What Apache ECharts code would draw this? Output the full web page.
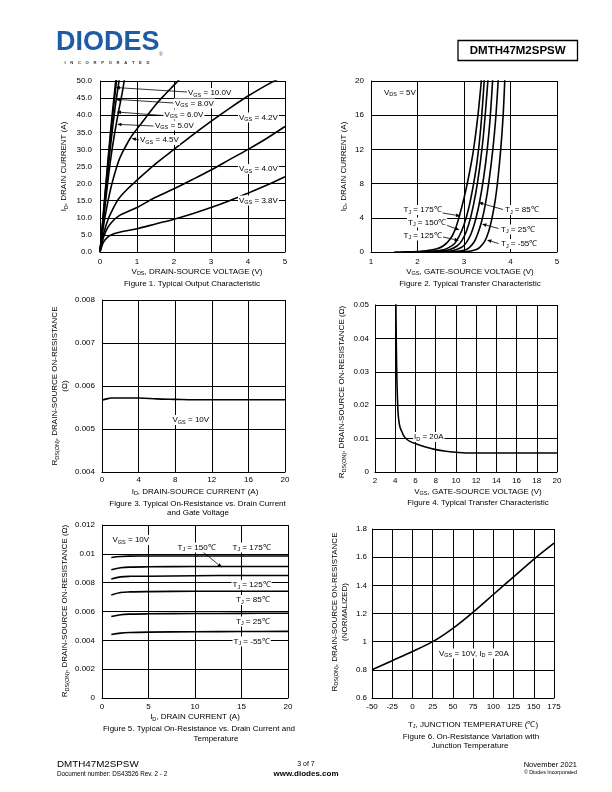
<!DOCTYPE html>
<html><head><meta charset="utf-8">
<script src="https://cdn.jsdelivr.net/npm/echarts@6/dist/echarts.min.js"></script>
<style>html,body{margin:0;padding:0;background:#fff}#c{width:612px;height:792px}</style>
</head><body><div id="c"></div>
<script>
// ---------------- DATA ----------------
// Figure 1: Typical Output Characteristic  [VDS (V), ID (A)]
const fig1XTicks = [0, 1, 2, 3, 4, 5];
const fig1YTicks = [0, 5, 10, 15, 20, 25, 30, 35, 40, 45, 50];
const fig1Vgs10 = [[0,0],[0.05,6],[0.1,12.5],[0.2,25],[0.3,37],[0.4,47.5],[0.43,50.5]];
const fig1Vgs8  = [[0,0],[0.05,5.8],[0.1,12],[0.2,24],[0.3,35.5],[0.4,45.5],[0.45,50.5]];
const fig1Vgs6  = [[0,0],[0.05,5.5],[0.1,11],[0.2,22],[0.3,32.5],[0.4,41.5],[0.5,49],[0.52,50.5]];
const fig1Vgs5  = [[0,0],[0.05,5],[0.1,10],[0.2,19.5],[0.3,28],[0.4,35],[0.5,41],[0.6,46.5],[0.66,50.5]];
const fig1Vgs45 = [[0,0],[0.05,4],[0.1,8],[0.2,14],[0.3,19],[0.4,23],[0.5,26.5],[0.6,29],[0.75,32],[0.86,34],[1,36],[1.25,39.5],[1.5,43],[1.75,46],[2,48.8],[2.15,50.5]];
const fig1Vgs42 = [[0,0],[0.05,3],[0.1,5.5],[0.2,9],[0.3,11.5],[0.5,15.5],[0.75,18.5],[1,21],[1.5,25.8],[2,30],[2.5,34.2],[3,38.2],[3.5,42],[4,45.6],[4.5,48.8],[4.8,50.5]];
const fig1Vgs40 = [[0,0],[0.05,2.5],[0.1,4.5],[0.2,7],[0.3,8.5],[0.5,10.5],[1,13],[1.5,16],[2,18.5],[2.5,21.2],[3,24],[3.5,27],[4,30],[4.5,33.2],[5,36.7]];
const fig1Vgs38 = [[0,0],[0.05,1.7],[0.1,3],[0.2,4.3],[0.3,5],[0.5,5.7],[1,6.8],[1.5,8.2],[2,9.6],[2.5,11.2],[3,13],[3.5,15],[4,17.2],[4.5,19.5],[5,22]];

// Figure 2: Typical Transfer Characteristic  [VGS (V), ID (A)]
const fig2XTicks = [1, 2, 3, 4, 5];
const fig2YTicks = [0, 4, 8, 12, 16, 20];
const fig2T175 = [[1.5,0],[1.8,0.02],[2.0,0.06],[2.2,0.15],[2.4,0.35],[2.55,0.7],[2.7,1.5],[2.8,2.5],[2.9,4.2],[3.0,6.3],[3.1,8.8],[3.2,11.8],[3.3,16],[3.38,20.5]];
const fig2T150 = [[1.7,0],[2.0,0.02],[2.3,0.08],[2.5,0.2],[2.65,0.45],[2.8,1.0],[2.9,1.9],[3.0,3.2],[3.1,5.1],[3.2,7.8],[3.28,10.5],[3.36,14.5],[3.44,20.5]];
const fig2T125 = [[1.9,0],[2.2,0.02],[2.5,0.1],[2.7,0.3],[2.85,0.7],[2.95,1.3],[3.05,2.4],[3.15,4.2],[3.25,6.8],[3.33,9.6],[3.42,13.8],[3.52,20.5]];
const fig2T85  = [[2.1,0],[2.5,0.03],[2.75,0.15],[2.95,0.55],[3.05,1.1],[3.15,2.1],[3.25,3.8],[3.33,5.7],[3.42,8.6],[3.5,12],[3.56,15.5],[3.62,20.5]];
const fig2T25  = [[2.4,0],[2.8,0.04],[3.0,0.2],[3.12,0.55],[3.22,1.2],[3.3,2.2],[3.38,3.6],[3.46,5.6],[3.54,8.4],[3.62,12],[3.68,15.5],[3.74,20.5]];
const fig2Tm55 = [[2.7,0],[3.05,0.04],[3.25,0.25],[3.35,0.6],[3.45,1.3],[3.53,2.4],[3.6,3.9],[3.67,6],[3.73,8.6],[3.79,12],[3.84,15.8],[3.88,20.5]];

// Figure 3: On-Resistance vs Drain Current  [ID (A), RDS(on) (ohm)]
const fig3XTicks = [0, 4, 8, 12, 16, 20];
const fig3YTicks = [0.004, 0.005, 0.006, 0.007, 0.008];
const fig3Vgs10 = [[0,0.00567],[0.5,0.0057],[1,0.00572],[2,0.00572],[4,0.00572],[6,0.0057],[8,0.00569],[10,0.00568],[12,0.00568],[16,0.00568],[20,0.00568]];

// Figure 4: RDS(on) vs VGS  [VGS (V), RDS(on) (ohm)]
const fig4XTicks = [2, 4, 6, 8, 10, 12, 14, 16, 18, 20];
const fig4YTicks = [0, 0.01, 0.02, 0.03, 0.04, 0.05];
const fig4Id20 = [[4.06,0.052],[4.1,0.04],[4.15,0.03],[4.22,0.022],[4.3,0.017],[4.4,0.0145],[4.5,0.0132],[4.64,0.0122],[4.85,0.0108],[5.14,0.0098],[5.5,0.0091],[6.1,0.0084],[7,0.0075],[8,0.0067],[9,0.0062],[10,0.0059],[11,0.0057],[14,0.0057],[17,0.0057],[20,0.0057]];

// Figure 5: RDS(on) vs ID and Temperature  [ID (A), RDS(on) (ohm)]
const fig5XTicks = [0, 5, 10, 15, 20];
const fig5YTicks = [0, 0.002, 0.004, 0.006, 0.008, 0.01, 0.012];
const fig5T175 = [[1,0.00975],[2,0.00982],[3,0.00984],[5,0.00985],[10,0.00985],[15,0.00985],[20,0.00985]];
const fig5T150 = [[1,0.0089],[2,0.00903],[3,0.00908],[5,0.0091],[10,0.00912],[15,0.00912],[20,0.00912]];
const fig5T125 = [[1,0.00825],[2,0.0084],[3,0.00844],[5,0.00845],[10,0.00848],[15,0.0085],[20,0.0085]];
const fig5T85  = [[1,0.00715],[2,0.00732],[3,0.00736],[5,0.00738],[10,0.0074],[15,0.0074],[20,0.0074]];
const fig5T25  = [[1,0.00565],[2,0.00578],[3,0.00582],[5,0.00584],[10,0.00586],[15,0.00587],[20,0.00588]];
const fig5Tm55 = [[1,0.0044],[2,0.0045],[3,0.00454],[5,0.00457],[10,0.0046],[15,0.00461],[20,0.00462]];

// Figure 6: normalized RDS(on) vs TJ  [TJ (C), normalized]
const fig6XTicks = [-50, -25, 0, 25, 50, 75, 100, 125, 150, 175];
const fig6YTicks = [0.6, 0.8, 1, 1.2, 1.4, 1.6, 1.8];
const fig6Norm = [[-50,0.8],[-25,0.865],[0,0.93],[25,1.0],[50,1.095],[75,1.21],[100,1.335],[125,1.46],[150,1.585],[175,1.7]];

// ---------------- STYLE / LAYOUT ----------------
const FONT = '"Liberation Sans", Arial, Helvetica, sans-serif';
const FS = 8;
const grids = [
  {left:100, top:81,  width:185, height:171},
  {left:371, top:81,  width:186, height:171},
  {left:102, top:300, width:183, height:172},
  {left:375, top:305, width:182, height:167},
  {left:102, top:525, width:186, height:173},
  {left:372, top:529, width:182, height:169}
];

function axis(gi, ticks, fmt, margin) {
  return {
    type:'value', gridIndex:gi,
    min:ticks[0], max:ticks[ticks.length-1], interval:+(ticks[1]-ticks[0]).toFixed(6),
    axisLine:{show:true, onZero:false, lineStyle:{color:'#000', width:1}},
    axisTick:{show:false},
    splitLine:{show:true, lineStyle:{color:'#000', width:1}},
    axisLabel:{fontSize:FS, color:'#000', fontFamily:FONT, margin:margin, formatter:fmt}
  };
}
const f1 = v => v.toFixed(1);
const fAuto = v => String(+(+v).toFixed(4));

function ser(gi, data) {
  return {type:'line', xAxisIndex:gi, yAxisIndex:gi, data:data, showSymbol:false, symbol:'none',
    smooth:0.35, silent:true, animation:false,
    lineStyle:{color:'#000', width:1.6}};
}

// rich-text helper: 'V_{GS} = 10V'
const rich = {
  n:{fontSize:FS, fontFamily:FONT, color:'#000', lineHeight:10},
  s:{fontSize:5.5, fontFamily:FONT, color:'#000', verticalAlign:'bottom', lineHeight:6}
};
function rt(str) {
  return str.split('\n').map(line => {
    let out = '', re = /_\{([^}]*)\}/g, last = 0, m;
    while ((m = re.exec(line))) {
      if (m.index > last) out += '{n|' + line.slice(last, m.index) + '}';
      out += '{s|' + m[1] + '}';
      last = re.lastIndex;
    }
    if (last < line.length) out += '{n|' + line.slice(last) + '}';
    return out;
  }).join('\n');
}
function txt(s, x, y, opts) {
  opts = opts || {};
  const el = {type:'text', x:x, y:y, silent:true, z:100,
    style:{text:rt(s), rich:rich, align:opts.align || 'center', verticalAlign:'middle',
      fontFamily:FONT, fontSize:FS, fill:'#000'}};
  if (opts.rot) el.rotation = Math.PI/2;
  if (opts.bg) { el.style.backgroundColor = '#fff'; el.style.padding = [0,1,0,1]; }
  return el;
}
function arrow(x1,y1,x2,y2) {
  const dx = x2-x1, dy = y2-y1, L = Math.hypot(dx,dy), ux = dx/L, uy = dy/L;
  const hl = 4.5, hw = 1.8;
  const bx = x2 - ux*hl, by = y2 - uy*hl;
  return [
    {type:'line', silent:true, z:99, shape:{x1:x1,y1:y1,x2:bx,y2:by}, style:{stroke:'#000', lineWidth:0.8}},
    {type:'polygon', silent:true, z:99, shape:{points:[[x2,y2],[bx-uy*hw,by+ux*hw],[bx+uy*hw,by-ux*hw]]}, style:{fill:'#000'}}
  ];
}

const graphics = [];
// header
graphics.push({type:'text', x:56, y:56, style:{text:'DIODES', fontFamily:FONT, fontWeight:'bold', fontSize:27, fill:'#1f5ca6', align:'left', verticalAlign:'bottom'}});
graphics.push({type:'text', x:159, y:57, style:{text:'®', fontFamily:FONT, fontSize:5, fill:'#1f5ca6', align:'left', verticalAlign:'bottom'}});
graphics.push({type:'text', x:107, y:62.5, style:{text:'I    N    C    O    R    P    O    R    A    T    E    D', fontFamily:FONT, fontWeight:'bold', fontSize:4.2, fill:'#333', align:'center', verticalAlign:'middle'}});
graphics.push({type:'rect', shape:{x:458, y:40.5, width:119.5, height:20}, style:{fill:'none', stroke:'#000', lineWidth:1.3}});
graphics.push({type:'text', x:517.7, y:50.7, style:{text:'DMTH47M2SPSW', fontFamily:FONT, fontWeight:'bold', fontSize:11.5, fill:'#000', align:'center', verticalAlign:'middle'}});
// footer
graphics.push({type:'text', x:57, y:764.5, style:{text:'DMTH47M2SPSW', fontFamily:FONT, fontSize:9.8, fill:'#000', align:'left', verticalAlign:'middle'}});
graphics.push({type:'text', x:57, y:774, style:{text:'Document number: DS43526 Rev. 2 - 2', fontFamily:FONT, fontSize:6.3, fill:'#000', align:'left', verticalAlign:'middle'}});
graphics.push({type:'text', x:306, y:764.5, style:{text:'3 of 7', fontFamily:FONT, fontSize:7, fill:'#000', align:'center', verticalAlign:'middle'}});
graphics.push({type:'text', x:306, y:773.5, style:{text:'www.diodes.com', fontFamily:FONT, fontWeight:'bold', fontSize:8, fill:'#000', align:'center', verticalAlign:'middle'}});
graphics.push({type:'text', x:577, y:764.5, style:{text:'November 2021', fontFamily:FONT, fontSize:7.5, fill:'#000', align:'right', verticalAlign:'middle'}});
graphics.push({type:'text', x:577, y:773, style:{text:'© Diodes Incorporated', fontFamily:FONT, fontSize:5.3, fill:'#000', align:'right', verticalAlign:'middle'}});

// Figure 1 annotations
graphics.push(...arrow(187,92,115.5,87.5), ...arrow(173.5,103,115.5,99.3), ...arrow(163,115.5,116.5,112), ...arrow(153.5,126,117,124.3), ...arrow(139,140,131.5,138.4));
graphics.push(txt('V_{GS} = 10.0V',187,93,{align:'left',bg:1}));
graphics.push(txt('V_{GS} = 8.0V',174,103.5,{align:'left',bg:1}));
graphics.push(txt('V_{GS} = 6.0V',163.5,114.5,{align:'left',bg:1}));
graphics.push(txt('V_{GS} = 5.0V',154,125.5,{align:'left',bg:1}));
graphics.push(txt('V_{GS} = 4.5V',139,140,{align:'left',bg:1}));
graphics.push(txt('V_{GS} = 4.2V',238,117.5,{align:'left',bg:1}));
graphics.push(txt('V_{GS} = 4.0V',238,169,{align:'left',bg:1}));
graphics.push(txt('V_{GS} = 3.8V',238,200.5,{align:'left',bg:1}));
graphics.push(txt('I_{D}, DRAIN CURRENT (A)',64,166.5,{rot:1}));
graphics.push(txt('V_{DS}, DRAIN-SOURCE VOLTAGE (V)',197,271.5));
graphics.push(txt('Figure 1. Typical Output Characteristic',192,283.5));

// Figure 2 annotations
graphics.push(...arrow(437,212,460.5,216), ...arrow(446,225,459.5,230), ...arrow(443,237,459,240.5),
  ...arrow(503,209.5,478.5,202.5), ...arrow(498.5,228.5,482,224), ...arrow(498.5,243.5,487,240));
graphics.push(txt('V_{DS} = 5V',383,92.5,{align:'left',bg:1}));
graphics.push(txt('T_{J} = 175℃',402.5,210,{align:'left',bg:1}));
graphics.push(txt('T_{J} = 150℃',407,222.5,{align:'left',bg:1}));
graphics.push(txt('T_{J} = 125℃',402.5,235.5,{align:'left',bg:1}));
graphics.push(txt('T_{J} = 85℃',504,210,{align:'left',bg:1}));
graphics.push(txt('T_{J} = 25℃',500,229.5,{align:'left',bg:1}));
graphics.push(txt('T_{J} = -55℃',500,244,{align:'left',bg:1}));
graphics.push(txt('I_{D}, DRAIN CURRENT (A)',343.5,166.5,{rot:1}));
graphics.push(txt('V_{GS}, GATE-SOURCE VOLTAGE (V)',470,271.5));
graphics.push(txt('Figure 2. Typical Transfer Characteristic',470,283.5));

// Figure 3 annotations
graphics.push(txt('V_{GS} = 10V',171.5,420,{align:'left',bg:1}));
graphics.push(txt('R_{DS(ON)}, DRAIN-SOURCE ON-RESISTANCE\n(Ω)',60,386,{rot:1}));
graphics.push(txt('I_{D}, DRAIN-SOURCE CURRENT (A)',195,491.5));
graphics.push(txt('Figure 3. Typical On-Resistance vs. Drain Current',197.5,503.3));
graphics.push(txt('and Gate Voltage',198,512.8));

// Figure 4 annotations
graphics.push(txt('I_{D} = 20A',413,437,{align:'left',bg:1}));
graphics.push(txt('R_{DS(ON)}, DRAIN-SOURCE ON-RESISTANCE (Ω)',342,392,{rot:1}));
graphics.push(txt('V_{GS}, GATE-SOURCE VOLTAGE (V)',478,491.5));
graphics.push(txt('Figure 4. Typical Transfer Characteristic',478,503));

// Figure 5 annotations
graphics.push(...arrow(203,552,222,567.5));
graphics.push(txt('V_{GS} = 10V',111.5,540,{align:'left',bg:1}));
graphics.push(txt('T_{J} = 150℃',176.5,547.5,{align:'left',bg:1}));
graphics.push(txt('T_{J} = 175℃',231.5,547.5,{align:'left',bg:1}));
graphics.push(txt('T_{J} = 125℃',231.5,585,{align:'left',bg:1}));
graphics.push(txt('T_{J} = 85℃',235,600,{align:'left',bg:1}));
graphics.push(txt('T_{J} = 25℃',235,621.5,{align:'left',bg:1}));
graphics.push(txt('T_{J} = -55℃',232.5,641.5,{align:'left',bg:1}));
graphics.push(txt('R_{DS(ON)}, DRAIN-SOURCE ON-RESISTANCE (Ω)',65,611,{rot:1}));
graphics.push(txt('I_{D}, DRAIN CURRENT (A)',195,717));
graphics.push(txt('Figure 5. Typical On-Resistance vs. Drain Current and',199,728.5));
graphics.push(txt('Temperature',216,738.5));

// Figure 6 annotations
graphics.push(txt('V_{GS} = 10V, I_{D} = 20A',438,653.5,{align:'left',bg:1}));
graphics.push(txt('R_{DS(ON)}, DRAIN-SOURCE ON-RESISTANCE\n(NORMALIZED)',339.5,612,{rot:1}));
graphics.push(txt('T_{J}, JUNCTION TEMPERATURE (℃)',473,724.5));
graphics.push(txt('Figure 6. On-Resistance Variation with',471,737));
graphics.push(txt('Junction Temperature',470,746));

const option = {
  animation:false,
  backgroundColor:'#fff',
  grid: grids.map(g => Object.assign({containLabel:false, show:false}, g)),
  xAxis: [
    axis(0, fig1XTicks, fAuto, 6),
    axis(1, fig2XTicks, fAuto, 6),
    axis(2, fig3XTicks, fAuto, 4),
    axis(3, fig4XTicks, fAuto, 5),
    axis(4, fig5XTicks, fAuto, 5),
    axis(5, fig6XTicks, fAuto, 5)
  ],
  yAxis: [
    axis(0, fig1YTicks, f1, 8),
    axis(1, fig2YTicks, fAuto, 7),
    axis(2, fig3YTicks, v => (+v).toFixed(3), 7),
    axis(3, fig4YTicks, fAuto, 6),
    axis(4, fig5YTicks, fAuto, 7),
    axis(5, fig6YTicks, fAuto, 5)
  ],
  series: [
    ser(0, fig1Vgs10), ser(0, fig1Vgs8), ser(0, fig1Vgs6), ser(0, fig1Vgs5), ser(0, fig1Vgs45),
    ser(0, fig1Vgs42), ser(0, fig1Vgs40), ser(0, fig1Vgs38),
    ser(1, fig2T175), ser(1, fig2T150), ser(1, fig2T125), ser(1, fig2T85), ser(1, fig2T25), ser(1, fig2Tm55),
    ser(2, fig3Vgs10),
    ser(3, fig4Id20),
    ser(4, fig5T175), ser(4, fig5T150), ser(4, fig5T125), ser(4, fig5T85), ser(4, fig5T25), ser(4, fig5Tm55),
    ser(5, fig6Norm)
  ],
  graphic: graphics
};
const chart = echarts.init(document.getElementById('c'), null, {renderer:'canvas', width:612, height:792});
chart.setOption(option);
</script>
</body></html>
